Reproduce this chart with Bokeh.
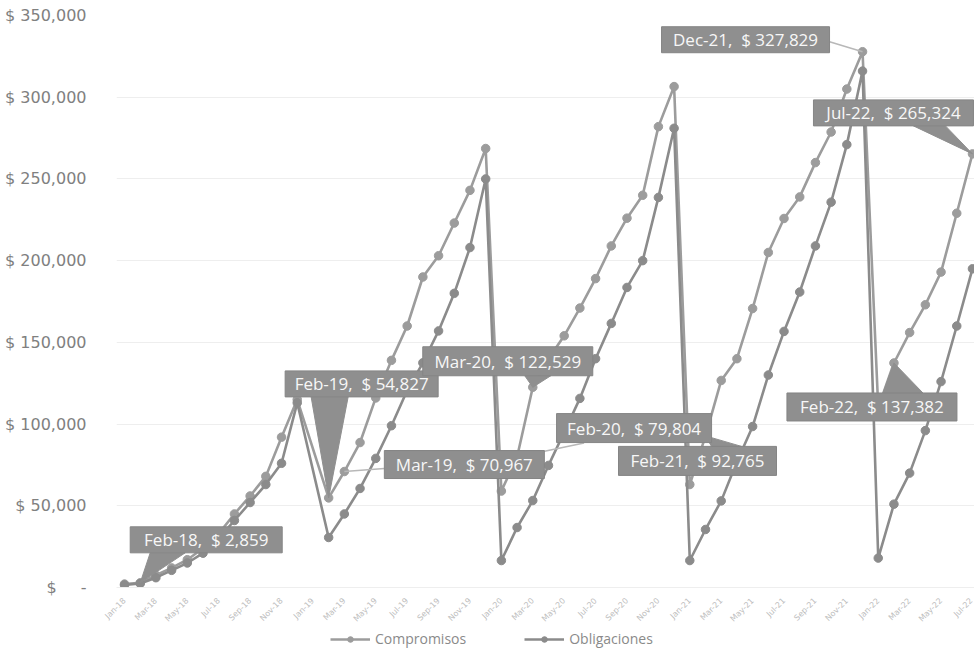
import math
from bokeh.plotting import figure
from bokeh.layouts import column
from bokeh.models import ColumnDataSource, Range1d, FixedTicker, Legend, LegendItem
from bokeh.core.properties import value
from bokeh.embed import file_html
from bokeh.resources import INLINE

# ---------------- data ----------------
months = [
    "Jan-18", "Feb-18", "Mar-18", "Apr-18", "May-18", "Jun-18", "Jul-18", "Aug-18", "Sep-18", "Oct-18", "Nov-18", "Dec-18",
    "Jan-19", "Feb-19", "Mar-19", "Apr-19", "May-19", "Jun-19", "Jul-19", "Aug-19", "Sep-19", "Oct-19", "Nov-19", "Dec-19",
    "Jan-20", "Feb-20", "Mar-20", "Apr-20", "May-20", "Jun-20", "Jul-20", "Aug-20", "Sep-20", "Oct-20", "Nov-20", "Dec-20",
    "Jan-21", "Feb-21", "Mar-21", "Apr-21", "May-21", "Jun-21", "Jul-21", "Aug-21", "Sep-21", "Oct-21", "Nov-21", "Dec-21",
    "Jan-22", "Feb-22", "Mar-22", "Apr-22", "May-22", "Jun-22", "Jul-22",
]

compromisos_2018 = [2100, 2859, 7500, 12000, 17000, 24000, 33000, 45000, 56000, 68000, 92000, 115000]
compromisos_2019 = [None, 54827, 70967, 88700, 116000, 139000, 160000, 190000, 203000, 223000, 243000, 268600]
compromisos_2020 = [59000, 79804, 122529, 140000, 154000, 171000, 189000, 209000, 226000, 240000, 282000, 306500]
compromisos_2021 = [63000, 92765, 126700, 140000, 170700, 205000, 225800, 239000, 260000, 278700, 305000, 327829]
compromisos_2022 = [110000, 137382, 156000, 173000, 193000, 229000, 265324]

obligaciones_2018 = [1500, 2400, 6000, 10500, 15000, 21000, 30000, 41000, 52000, 63000, 76000, 113000]
obligaciones_2019 = [None, 30600, 45000, 60600, 79000, 99000, 120600, 137500, 157000, 180000, 208000, 250000]
obligaciones_2020 = [16500, 36700, 53200, 74700, 95000, 115700, 140000, 161600, 183600, 200000, 238700, 281000]
obligaciones_2021 = [16500, 35500, 53000, 77000, 98500, 130000, 156700, 180800, 209000, 235800, 271000, 316000]
obligaciones_2022 = [18000, 51000, 70000, 96000, 126000, 160000, 195000]

compromisos = compromisos_2018 + compromisos_2019 + compromisos_2020 + compromisos_2021 + compromisos_2022
obligaciones = obligaciones_2018 + obligaciones_2019 + obligaciones_2020 + obligaciones_2021 + obligaciones_2022

series_names = ["Compromisos", "Obligaciones"]

y_ticks = [0, 50000, 100000, 150000, 200000, 250000, 300000, 350000]
y_tick_labels = ["$\u2002\u2002\u2002-", "$ 50,000", "$ 100,000", "$ 150,000", "$ 200,000",
                 "$ 250,000", "$ 300,000", "$ 350,000"]

labeled_months = ["Feb-18", "Feb-19", "Mar-19", "Feb-20", "Mar-20", "Feb-21", "Dec-21", "Feb-22", "Jul-22"]

# ---------------- layout / style ----------------
W = 974
H_MAIN, H_LEG = 630, 22
LEFT = 116
X0, X1 = -0.51, 54.13
Y0, Y1 = 0, 350000
FW, FH = 858, 572           # frame size in px
PXM = FW / (X1 - X0)
PYV = FH / (Y1 - Y0)

C_COMP = "#9c9c9c"
C_OBLI = "#8b8b8b"
BOX = "#8f8f8f"

# label callout layout (px, relative to the labelled point): box centre offset, box size, pointer
label_layout = {
    "Feb-18": (66, -43, 152, 26, ("wedge", "bottom", 20, 55)),
    "Feb-19": (33, -114, 153, 26, ("wedge", "bottom", 26, 63)),
    "Mar-19": (120, -7, 160, 28, ("leader", 40, -3)),
    "Feb-20": (117, -29, 155, 29, ("leader", 67, -14)),
    "Mar-20": (-25, -26, 170, 29, ("wedge", "bottom", 102, 128)),
    "Feb-21": (-8, 25, 158, 29, ("wedge", "top", 93, 123)),
    "Dec-21": (-117, -12, 168, 26, ("leader", -33, -10)),
    "Feb-22": (-22, 44, 170, 28, ("wedge", "top", 96, 136)),
    "Jul-22": (-79, -41, 160, 26, ("wedge", "bottom", 100, 132)),
}

p = figure(width=W, height=H_MAIN, output_backend="svg", toolbar_location=None,
           x_range=Range1d(X0, X1), y_range=Range1d(Y0, Y1),
           min_border_left=LEFT, min_border_right=0, min_border_top=15, min_border_bottom=H_MAIN - 15 - FH,
           background_fill_color="white", border_fill_color="white", outline_line_color=None)

# axes
p.yaxis.ticker = FixedTicker(ticks=y_ticks)
p.yaxis.major_label_overrides = {t: l for t, l in zip(y_ticks, y_tick_labels)}
p.yaxis.axis_line_color = None
p.yaxis.major_tick_line_color = None
p.yaxis.minor_tick_line_color = None
p.yaxis.major_label_standoff = 24
p.yaxis.major_label_text_font = "DejaVu Sans"
p.yaxis.major_label_text_font_size = "16px"
p.yaxis.major_label_text_color = "#808080"

xt = list(range(0, len(months), 2))
p.xaxis.ticker = FixedTicker(ticks=xt)
p.xaxis.major_label_overrides = {i: months[i] for i in xt}
p.xaxis.major_label_orientation = math.pi / 4
p.xaxis.axis_line_color = "#eeeeee"
p.xaxis.major_tick_line_color = None
p.xaxis.minor_tick_line_color = None
p.xaxis.major_label_standoff = 6
p.xaxis.major_label_text_font = "DejaVu Sans"
p.xaxis.major_label_text_font_size = "8px"
p.xaxis.major_label_text_color = "#bdbdbd"

p.xgrid.grid_line_color = None
p.ygrid.grid_line_color = "#eeeeee"
p.ygrid.ticker = FixedTicker(ticks=y_ticks)


def src(vals):
    xs = [i for i, v in enumerate(vals) if v is not None]
    ys = [v for v in vals if v is not None]
    return ColumnDataSource(dict(x=xs, y=ys))


for vals, col in ((compromisos, C_COMP), (obligaciones, C_OBLI)):
    s = src(vals)
    p.line("x", "y", source=s, line_color=col, line_width=2.6)
    p.scatter("x", "y", source=s, size=8.5, marker="circle", fill_color=col, line_color=col)


# ---------------- data labels (callouts) ----------------
def to_data(i, v, px, py):
    return i + px / PXM, v - py / PYV


lead_x0, lead_y0, lead_x1, lead_y1 = [], [], [], []
wedge_xs, wedge_ys = [], []
box_x, box_y, box_w, box_h, box_txt = [], [], [], [], []
for m in labeled_months:
    i = months.index(m)
    v = compromisos[i]
    dx, dy, w, h, ptr = label_layout[m]
    cx, cy = to_data(i, v, dx, dy)
    box_x.append(cx)
    box_y.append(cy)
    box_w.append(w / PXM)
    box_h.append(h / PYV)
    box_txt.append(f"{m},\u00a0 $ {v:,}")
    if ptr[0] == "wedge":
        _, side, a, b = ptr
        ey = dy + h / 2 if side == "bottom" else dy - h / 2
        left = dx - w / 2
        p1 = to_data(i, v, left + a, ey)
        p2 = to_data(i, v, left + b, ey)
        wedge_xs.append([p1[0], p2[0], i])
        wedge_ys.append([p1[1], p2[1], v])
    else:
        _, ax, ay = ptr
        a = to_data(i, v, ax, ay)
        lead_x0.append(a[0]); lead_y0.append(a[1])
        lead_x1.append(i); lead_y1.append(v)

p.segment(lead_x0, lead_y0, lead_x1, lead_y1, line_color="#b8b8b8", line_width=1.6)
p.patches(wedge_xs, wedge_ys, fill_color=BOX, line_color=BOX, line_width=1)
p.rect(box_x, box_y, box_w, box_h, fill_color=BOX, line_color="#858585", line_width=1)
p.text(box_x, box_y, text=box_txt, text_align="center", text_baseline="middle",
       text_font=value("Open Sans"), text_font_size="17px", text_color="#f7f7f7")

# ---------------- legend strip under the chart ----------------
pl = figure(width=W, height=H_LEG, output_backend="svg", toolbar_location=None,
            x_range=Range1d(0, 1), y_range=Range1d(0, 1), min_border=0,
            outline_line_color=None, background_fill_color="white", border_fill_color="white")
pl.axis.visible = False
pl.grid.visible = False
items = []
for name, col in zip(series_names, (C_COMP, C_OBLI)):
    # swatch-only renderers: one point placed outside the visible range of this strip
    swatch = ColumnDataSource(dict(x=[-5], y=[-5]))
    lr = pl.line("x", "y", source=swatch, line_color=col, line_width=2.6)
    sr = pl.scatter("x", "y", source=swatch, size=8.5, marker="circle", fill_color=col, line_color=col)
    items.append(LegendItem(label=name, renderers=[lr, sr]))
legend = Legend(items=items, orientation="horizontal", location=(330 - LEFT, 4),
                glyph_width=40, glyph_height=14, label_height=14, spacing=58,
                label_standoff=5, padding=0, margin=0,
                label_text_font="Open Sans", label_text_font_size="14px", label_text_color="#8a8a8a",
                border_line_color=None, background_fill_alpha=0)
pl.add_layout(legend)

layout = column(p, pl, spacing=0)
open("out.html", "w").write(file_html(layout, INLINE))
